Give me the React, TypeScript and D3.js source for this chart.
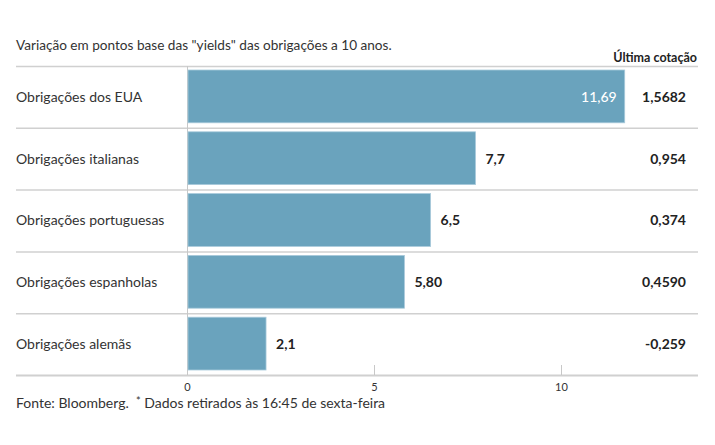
import React from 'react';
import * as d3 from 'd3';

const categories = [
  'Obrigações dos EUA',
  'Obrigações italianas',
  'Obrigações portuguesas',
  'Obrigações espanholas',
  'Obrigações alemãs',
];
const variation = [11.69, 7.7, 6.5, 5.8, 2.1];
const variationLabels = ['11,69', '7,7', '6,5', '5,80', '2,1'];
const lastQuote = ['1,5682', '0,954', '0,374', '0,4590', '-0,259'];
const xTicks = [0, 5, 10];

const W = 715;
const H = 445;
const FONT = 'Lato, "Noto Sans", sans-serif';
const BAR = '#6aa3bd';

export default function App() {
  const x = d3.scaleLinear().domain([0, 10]).range([187.5, 561.5]);
  const y = d3.scaleBand<string>().domain(categories).range([66, 375]).paddingInner(0).paddingOuter(0);
  const bw = y.bandwidth();

  return (
    <svg width={W} height={H} style={{ position: 'absolute', left: 0, top: 0, fontFamily: FONT }}>
      <rect width={W} height={H} fill="#fff" />
      <text x={16} y={50} fontSize={13.6} fill="#333">
        Variação em pontos base das "yields" das obrigações a 10 anos.
      </text>
      <text x={697} y={62} fontSize={12.5} fontWeight={700} fill="#222" textAnchor="end">
        Última cotação
      </text>

      {categories.map((c) => (
        <line key={`sep-${c}`} x1={16} x2={698} y1={y(c)! + 0.5} y2={y(c)! + 0.5} stroke="#d0d0d0" strokeWidth={1.5} />
      ))}
      <line x1={16} x2={698} y1={375.5} y2={375.5} stroke="#d0d0d0" strokeWidth={2} />

      {xTicks.map((t) => (
        <g key={`t-${t}`}>
          <line
            x1={x(t)}
            x2={x(t)}
            y1={t === 0 ? 66 : 365}
            y2={375}
            stroke="#c8c8c8"
            strokeWidth={1}
          />
          <text x={x(t)} y={391} fontSize={11} fill="#333" textAnchor="middle">
            {t}
          </text>
        </g>
      ))}

      {categories.map((c, i) => {
        const top = y(c)! + 4;
        const h = bw - 9;
        const cy = y(c)! + bw / 2;
        const end = x(variation[i]);
        const inside = variation[i] > 10;
        return (
          <g key={c}>
            <rect
              x={x(0) + 0.5}
              y={top}
              width={end - x(0) - 0.5}
              height={h}
              fill={BAR}
              stroke="#a9cadb"
              strokeWidth={0.8}
            />
            <text x={16} y={cy} dy="0.35em" fontSize={14} fill="#333">
              {c}
            </text>
            <text
              x={inside ? end - 8 : end + 10}
              y={cy}
              dy="0.35em"
              fontSize={14}
              fontWeight={inside ? 500 : 700}
              fill={inside ? '#fff' : '#222'}
              textAnchor={inside ? 'end' : 'start'}
            >
              {variationLabels[i]}
            </text>
            <text x={686} y={cy} dy="0.35em" fontSize={14} fontWeight={700} fill="#222" textAnchor="end">
              {lastQuote[i]}
            </text>
          </g>
        );
      })}

      <text x={16} y={408} fontSize={14} fill="#333" xmlSpace="preserve">
        {'Fonte: Bloomberg.  '}
        <tspan dy={-3} fontSize={11}>*</tspan>
        <tspan dy={3}>{' Dados retirados às 16:45 de sexta-feira'}</tspan>
      </text>
    </svg>
  );
}
